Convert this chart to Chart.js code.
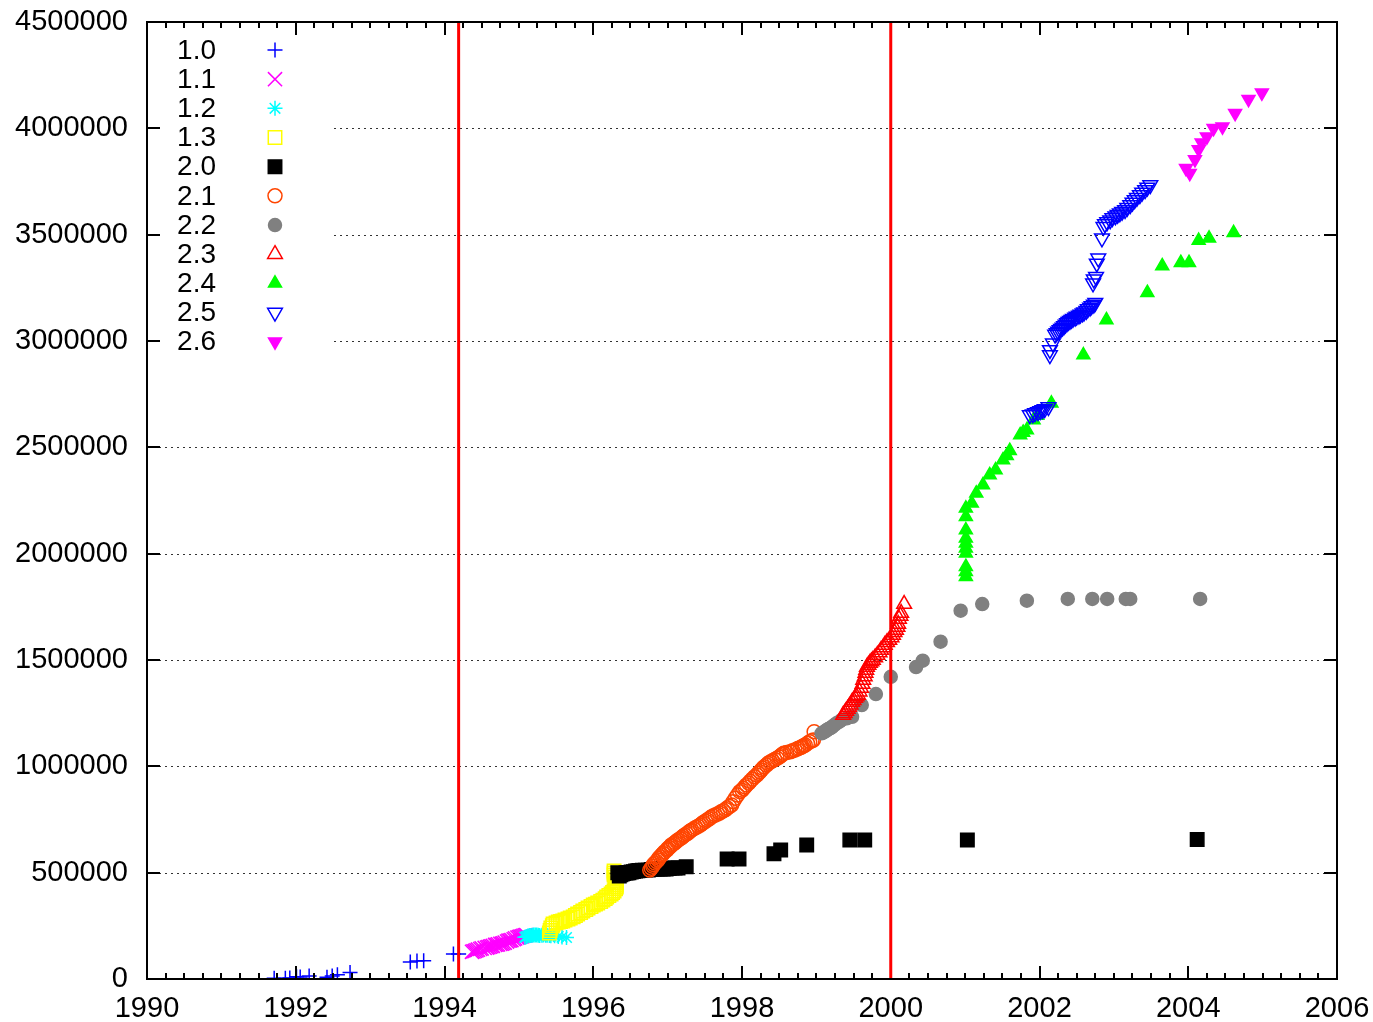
<!DOCTYPE html>
<html>
<head>
<meta charset="utf-8">
<script src="https://cdn.jsdelivr.net/npm/chart.js@4/dist/chart.umd.min.js"></script>
<style>
body { margin: 0; background: #fff; }
canvas { display: block; }
</style>
</head>
<body>
<canvas id="chart" width="1373" height="1022"></canvas>
<script>
// versies en hun [jaar, regels code]
const versions = ["1.0", "1.1", "1.2", "1.3", "2.0", "2.1", "2.2", "2.3", "2.4", "2.5", "2.6"];

const v10 = [[1991.71,4000],[1991.86,4000],[1991.92,5000],[1992.01,11000],[1992.06,9000],[1992.18,14000],[1992.42,8000],[1992.49,14000],[1992.56,20000],[1992.73,30000],[1993.54,80000],[1993.63,85000],[1993.72,86000],[1994.12,117000],[1994.19,117000]];
const v11 = [[1994.37,128000],[1994.39,130000],[1994.41,132000],[1994.43,135000],[1994.45,138000],[1994.48,141000],[1994.50,144000],[1994.54,146000],[1994.57,148000],[1994.59,150000],[1994.61,152000],[1994.63,154000],[1994.65,156000],[1994.68,160000],[1994.70,161000],[1994.72,163000],[1994.75,165000],[1994.77,166000],[1994.79,168000],[1994.81,171000],[1994.84,176000],[1994.86,180000],[1994.88,181000],[1994.90,183000],[1994.93,187000],[1994.95,191000],[1994.98,195000],[1995.00,197000],[1995.02,199000],[1995.04,201000],[1995.06,203000],[1995.08,205000],[1995.10,207000]];
const v12 = [[1995.08,196000],[1995.10,199000],[1995.12,202000],[1995.14,204000],[1995.16,205000],[1995.18,206000],[1995.20,207000],[1995.22,207000],[1995.24,207000],[1995.26,206000],[1995.28,205000],[1995.31,206000],[1995.33,207000],[1995.36,206000],[1995.38,206000],[1995.41,204000],[1995.43,203000],[1995.48,203000],[1995.53,200000],[1995.58,197000],[1995.64,195000]];
const v13 = [[1995.41,216000],[1995.42,228000],[1995.43,240000],[1995.45,250000],[1995.46,259000],[1995.50,264000],[1995.53,268000],[1995.56,270000],[1995.59,273000],[1995.62,277000],[1995.66,282000],[1995.69,287000],[1995.73,292000],[1995.76,299000],[1995.79,306000],[1995.83,313000],[1995.86,320000],[1995.90,327000],[1995.93,334000],[1995.97,341000],[1996.00,348000],[1996.03,352000],[1996.06,357000],[1996.10,364000],[1996.13,371000],[1996.16,378000],[1996.18,386000],[1996.21,393000],[1996.24,400000],[1996.26,407000],[1996.28,414000],[1996.30,424000],[1996.31,433000],[1996.31,442000],[1996.31,451000],[1996.30,460000],[1996.30,470000],[1996.29,480000],[1996.28,489000],[1996.28,498000],[1996.28,508000]];
const v20 = [[1996.33,500000],[1996.35,484000],[1996.37,490000],[1996.39,494000],[1996.41,496000],[1996.44,498000],[1996.46,499000],[1996.48,500000],[1996.51,503000],[1996.54,505000],[1996.57,508000],[1996.60,509000],[1996.62,510000],[1996.66,512000],[1996.70,512000],[1996.74,512000],[1996.78,515000],[1996.82,517000],[1996.86,517000],[1996.90,517000],[1996.94,517000],[1996.98,517000],[1997.02,520000],[1997.06,522000],[1997.10,522000],[1997.14,522000],[1997.25,528000],[1997.80,564000],[1997.96,564000],[1998.43,589000],[1998.52,607000],[1998.87,630000],[1999.45,654000],[1999.65,654000],[2001.03,654000],[2004.12,656000]];
const v21 = [[1996.76,512000],[1996.78,521000],[1996.80,530000],[1996.81,538000],[1996.83,545000],[1996.85,553000],[1996.87,560000],[1996.88,568000],[1996.90,575000],[1996.92,583000],[1996.94,590000],[1996.96,598000],[1996.99,606000],[1997.00,612000],[1997.02,618000],[1997.04,624000],[1997.05,630000],[1997.08,636000],[1997.10,642000],[1997.12,648000],[1997.14,654000],[1997.17,660000],[1997.19,665000],[1997.21,671000],[1997.23,677000],[1997.26,683000],[1997.28,689000],[1997.30,695000],[1997.32,700000],[1997.35,706000],[1997.38,712000],[1997.41,718000],[1997.44,724000],[1997.46,730000],[1997.48,736000],[1997.51,742000],[1997.53,748000],[1997.56,754000],[1997.58,760000],[1997.61,766000],[1997.64,771000],[1997.67,776000],[1997.70,781000],[1997.72,786000],[1997.75,791000],[1997.78,797000],[1997.80,804000],[1997.83,811000],[1997.86,818000],[1997.88,834000],[1997.91,850000],[1997.94,865000],[1997.97,881000],[1998.00,888000],[1998.02,896000],[1998.04,904000],[1998.06,912000],[1998.09,921000],[1998.11,930000],[1998.14,940000],[1998.17,951000],[1998.20,959000],[1998.22,967000],[1998.24,975000],[1998.26,983000],[1998.28,991000],[1998.30,998000],[1998.33,1006000],[1998.35,1014000],[1998.38,1020000],[1998.41,1026000],[1998.44,1032000],[1998.47,1038000],[1998.50,1044000],[1998.52,1050000],[1998.54,1056000],[1998.56,1061000],[1998.60,1065000],[1998.65,1069000],[1998.68,1073000],[1998.71,1077000],[1998.74,1081000],[1998.76,1085000],[1998.79,1089000],[1998.81,1093000],[1998.83,1097000],[1998.85,1100000],[1998.88,1108000],[1998.91,1116000],[1998.94,1120000],[1998.96,1124000],[1998.97,1163000]];
const v22 = [[1999.07,1155000],[1999.09,1159000],[1999.11,1163000],[1999.13,1167000],[1999.14,1171000],[1999.16,1175000],[1999.18,1178000],[1999.20,1182000],[1999.21,1186000],[1999.24,1194000],[1999.27,1202000],[1999.31,1210000],[1999.34,1218000],[1999.41,1226000],[1999.48,1233000],[1999.61,1288000],[1999.80,1340000],[2000.00,1421000],[2000.34,1467000],[2000.43,1497000],[2000.67,1586000],[2000.94,1732000],[2001.23,1763000],[2001.83,1779000],[2002.38,1787000],[2002.71,1787000],[2002.91,1787000],[2003.16,1787000],[2003.22,1787000],[2004.16,1787000]];
const v23 = [[1999.36,1241000],[1999.38,1250000],[1999.40,1260000],[1999.42,1270000],[1999.44,1279000],[1999.46,1290000],[1999.48,1302000],[1999.50,1311000],[1999.52,1321000],[1999.54,1328000],[1999.56,1335000],[1999.58,1351000],[1999.60,1368000],[1999.62,1387000],[1999.63,1406000],[1999.65,1422000],[1999.66,1439000],[1999.67,1453000],[1999.68,1467000],[1999.70,1476000],[1999.72,1486000],[1999.74,1493000],[1999.76,1500000],[1999.79,1512000],[1999.82,1524000],[1999.85,1535000],[1999.87,1547000],[1999.90,1559000],[1999.92,1571000],[1999.95,1583000],[1999.98,1594000],[2000.01,1606000],[2000.03,1618000],[2000.05,1630000],[2000.07,1641000],[2000.09,1655000],[2000.10,1669000],[2000.11,1693000],[2000.13,1707000],[2000.14,1721000],[2000.18,1763000]];
const v24 = [[2001.01,1892000],[2001.01,1915000],[2001.01,1939000],[2001.01,2002000],[2001.01,2025000],[2001.01,2049000],[2001.01,2072000],[2001.01,2111000],[2001.01,2174000],[2001.01,2213000],[2001.09,2237000],[2001.15,2284000],[2001.24,2323000],[2001.33,2370000],[2001.41,2393000],[2001.51,2440000],[2001.56,2460000],[2001.60,2484000],[2001.74,2558000],[2001.78,2570000],[2001.83,2581000],[2001.92,2628000],[2001.97,2650000],[2002.16,2707000],[2002.59,2934000],[2002.90,3099000],[2003.45,3227000],[2003.65,3353000],[2003.90,3368000],[2004.01,3368000],[2004.14,3472000],[2004.28,3483000],[2004.61,3509000]];
const v25 = [[2001.87,2652000],[2001.91,2656000],[2001.94,2661000],[2001.98,2666000],[2002.01,2671000],[2002.04,2676000],[2002.07,2680000],[2002.12,2690000],[2002.14,2934000],[2002.14,2958000],[2002.18,2989000],[2002.21,3030000],[2002.23,3038000],[2002.25,3045000],[2002.27,3052000],[2002.29,3058000],[2002.31,3064000],[2002.33,3070000],[2002.35,3078000],[2002.37,3085000],[2002.39,3090000],[2002.41,3095000],[2002.43,3100000],[2002.45,3105000],[2002.48,3110000],[2002.50,3115000],[2002.53,3120000],[2002.55,3125000],[2002.58,3130000],[2002.60,3135000],[2002.63,3142000],[2002.65,3150000],[2002.68,3158000],[2002.70,3165000],[2002.73,3172000],[2002.75,3180000],[2002.72,3271000],[2002.73,3290000],[2002.76,3302000],[2002.77,3365000],[2002.79,3389000],[2002.84,3483000],[2002.86,3537000],[2002.88,3550000],[2002.91,3559000],[2002.95,3568000],[2002.98,3578000],[2003.02,3587000],[2003.05,3594000],[2003.08,3601000],[2003.11,3608000],[2003.15,3616000],[2003.18,3627000],[2003.22,3639000],[2003.25,3651000],[2003.28,3663000],[2003.31,3674000],[2003.35,3686000],[2003.38,3698000],[2003.42,3710000],[2003.45,3722000],[2003.49,3733000]];
const v26 = [[2003.97,3812000],[2004.02,3789000],[2004.09,3854000],[2004.14,3901000],[2004.18,3932000],[2004.25,3961000],[2004.34,4000000],[2004.46,4008000],[2004.63,4071000],[2004.81,4137000],[2004.99,4167000]];

const series = [v10, v11, v12, v13, v20, v21, v22, v23, v24, v25, v26];

// rode lijnen
const releaseLines = [1994.19, 2000.0];

// gnuplot-achtige symbolen
const markers = [
    { style: "cross", color: "#0000ff", fill: false, r: 7.5 },
    { style: "crossRot", color: "#ff00ff", fill: false, r: 10 },
    { style: "star", color: "#00ffff", fill: false, r: 7.5 },
    { style: "rect", color: "#ffff00", fill: false, r: 9.5 },
    { style: "rect", color: "#000000", fill: true, r: 9.5 },
    { style: "circle", color: "#ff4500", fill: false, r: 7 },
    { style: "circle", color: "#808080", fill: true, r: 6.5 },
    { style: "triangle", color: "#ff0000", fill: false, r: 8.5 },
    { style: "triangle", color: "#00ff00", fill: true, r: 7.5 },
    { style: "triangle", color: "#0000ff", fill: false, r: 8.5, rot: 180 },
    { style: "triangle", color: "#ff00ff", fill: true, r: 7.5, rot: 180 }
];

Chart.defaults.font.family = '"Liberation Sans", Arial, Helvetica, sans-serif';
Chart.defaults.font.size = 29;
Chart.defaults.color = "#000";

const datasets = series.map((pts, i) => {
    const m = markers[i];
    return {
        label: versions[i],
        data: pts.map(p => ({ x: p[0], y: p[1] })),
        showLine: false,
        pointStyle: m.style,
        pointRadius: m.r,
        pointHoverRadius: m.r,
        pointRotation: m.rot || 0,
        pointBorderColor: m.color,
        pointBackgroundColor: m.fill ? m.color : "rgba(0,0,0,0)",
        pointBorderWidth: 1.5,
        order: series.length - i // latere versies bovenop
    };
});

const legendBottom = 358;
const legendRight = 334;

// geen extra marge rond de assen, de layout padding bepaalt alles
function fixAxis(s, w, h) {
    if (w) s.width = w;
    if (h) s.height = h;
    s.paddingTop = 0;
    s.paddingBottom = 0;
    s.paddingLeft = 0;
    s.paddingRight = 0;
}

const gnuplotLook = {
    id: "gnuplotLook",
    beforeDatasetsDraw(chart) {
        const { ctx, chartArea: a, scales } = chart;
        const y = scales.y;
        // stippellijnen, onderbroken door de legenda
        ctx.save();
        ctx.strokeStyle = "#333";
        ctx.lineWidth = 1;
        ctx.setLineDash([2, 4]);
        y.ticks.forEach(t => {
            if (t.value <= y.min || t.value >= y.max) return;
            const py = Math.round(y.getPixelForValue(t.value)) + 0.5;
            const x0 = py < legendBottom ? legendRight : a.left;
            ctx.beginPath();
            ctx.moveTo(x0, py);
            ctx.lineTo(a.right, py);
            ctx.stroke();
        });
        ctx.restore();
    },
    afterDatasetsDraw(chart) {
        const { ctx, chartArea: a, scales } = chart;
        const x = scales.x, y = scales.y;
        ctx.save();

        // tick marks naar binnen
        ctx.strokeStyle = "#000";
        ctx.lineWidth = 2;
        for (let v = x.min; v <= x.max + 1e-9; v += 0.25) {
            const px = Math.round(x.getPixelForValue(v));
            const len = Math.abs(v % 2) < 1e-6 ? 13 : 6;
            ctx.beginPath();
            ctx.moveTo(px, a.bottom);
            ctx.lineTo(px, a.bottom - len);
            ctx.moveTo(px, a.top);
            ctx.lineTo(px, a.top + len);
            ctx.stroke();
        }
        y.ticks.forEach(t => {
            const py = Math.round(y.getPixelForValue(t.value));
            ctx.beginPath();
            ctx.moveTo(a.left, py);
            ctx.lineTo(a.left + 13, py);
            ctx.moveTo(a.right, py);
            ctx.lineTo(a.right - 13, py);
            ctx.stroke();
        });

        // rode lijnen
        ctx.strokeStyle = "#ff0000";
        ctx.lineWidth = 3;
        releaseLines.forEach(v => {
            const px = x.getPixelForValue(v);
            ctx.beginPath();
            ctx.moveTo(px, a.top);
            ctx.lineTo(px, a.bottom);
            ctx.stroke();
        });

        // kader
        ctx.strokeStyle = "#000";
        ctx.lineWidth = 2;
        ctx.strokeRect(a.left, a.top, a.right - a.left, a.bottom - a.top);

        // legenda: tekst links, symbool rechts
        ctx.font = '28px "Liberation Sans", Arial, sans-serif';
        ctx.textAlign = "right";
        ctx.textBaseline = "middle";
        versions.forEach((label, i) => {
            const ly = a.top + 28 + i * 29.17;
            ctx.fillStyle = "#000";
            ctx.fillText(label, a.left + 69, ly + 1);
            const m = markers[i];
            ctx.strokeStyle = m.color;
            ctx.fillStyle = m.fill ? m.color : "rgba(0,0,0,0)";
            ctx.lineWidth = 1.5;
            Chart.helpers.drawPoint(ctx, {
                pointStyle: m.style,
                radius: m.r,
                rotation: m.rot || 0,
                borderWidth: 1.5
            }, a.left + 128, ly);
        });
        ctx.restore();
    }
};

new Chart(document.getElementById("chart"), {
    type: "scatter",
    data: { datasets: datasets },
    options: {
        responsive: false,
        animation: false,
        devicePixelRatio: 1,
        layout: { padding: { top: 22, right: 36, left: 0, bottom: 0 } },
        plugins: {
            legend: { display: false },
            tooltip: { enabled: false }
        },
        scales: {
            x: {
                type: "linear",
                min: 1990,
                max: 2006,
                grid: { display: false, drawTicks: false },
                border: { display: false },
                ticks: {
                    stepSize: 2,
                    padding: 13,
                    maxRotation: 0,
                    autoSkip: false,
                    callback: v => String(v)
                },
                afterFit: s => fixAxis(s, 0, 43)
            },
            y: {
                min: 0,
                max: 4500000,
                grid: { display: false, drawTicks: false },
                border: { display: false },
                ticks: {
                    stepSize: 500000,
                    padding: 19,
                    callback: v => String(v)
                },
                afterFit: s => fixAxis(s, 147, 0)
            }
        }
    },
    plugins: [gnuplotLook]
});
</script>
</body>
</html>
